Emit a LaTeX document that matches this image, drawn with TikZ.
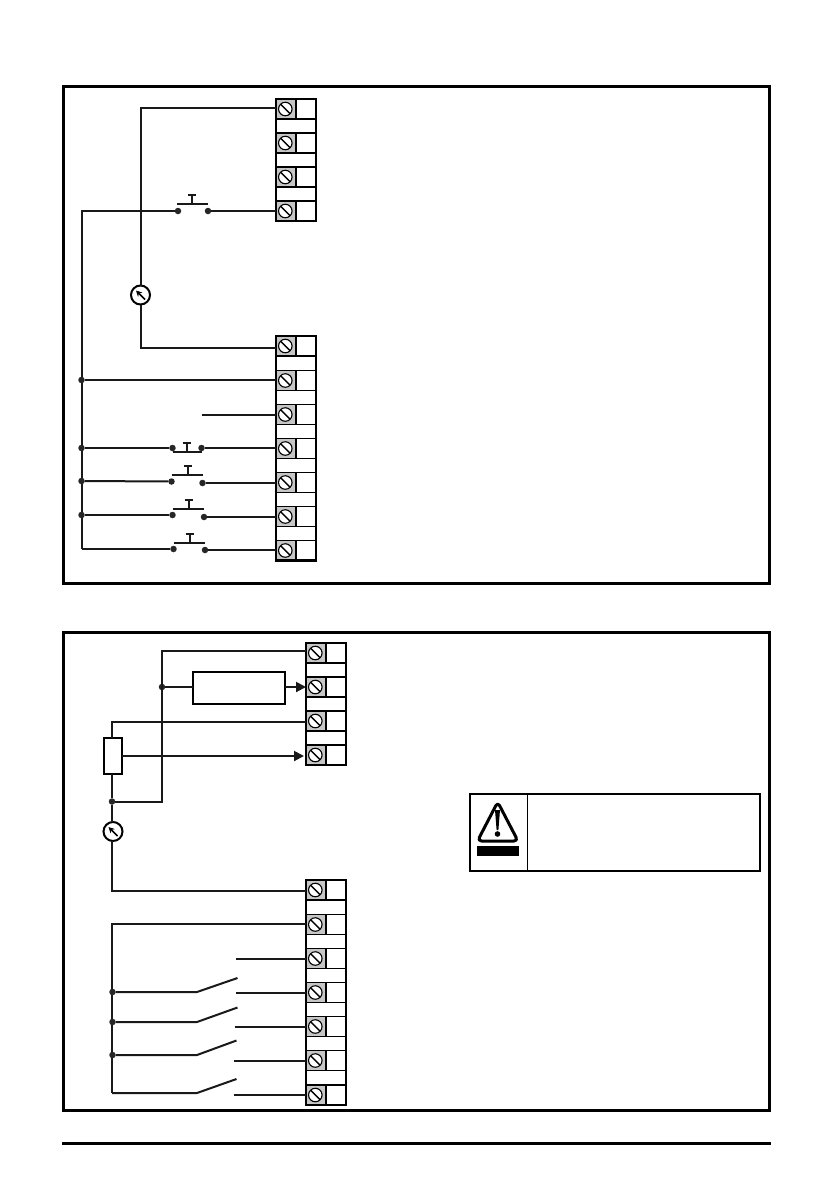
\documentclass[tikz,border=0pt]{standalone}
\usetikzlibrary{arrows.meta, positioning}
\tikzset{
    wire/.style={line width=2pt, line join=miter, black!90},
    panel/.style={line width=3pt},
    termcell/.style={draw, line width=1.8pt, fill=gray!45, minimum size=20pt, inner sep=0pt, outer sep=0pt},
    termblank/.style={draw, line width=1.8pt, fill=white, minimum size=20pt, inner sep=0pt, outer sep=0pt},
    termscrew/.style={draw, circle, line width=1.1pt, fill=white, minimum size=13.5pt, inner sep=0pt,
        path picture={\draw[line width=1.4pt] (path picture bounding box.north west) -- (path picture bounding box.south east);}},
    condot/.style={circle, fill=black!85, minimum size=6.5pt, inner sep=0pt, outer sep=0pt},
    meter/.style={draw, circle, line width=2pt, fill=white, minimum size=19pt, inner sep=0pt, outer sep=0pt,
        path picture={\draw[line width=1.6pt, -{Stealth[length=6pt,width=6pt]}]
            ([shift={(4.5,4.5)}]path picture bounding box.center) -- ([shift={(-4.5,-4.5)}]path picture bounding box.center);}},
    potbox/.style={draw, line width=2pt, fill=white, minimum width=18pt, minimum height=36pt, inner sep=0pt, outer sep=0pt},
    ctrlbox/.style={draw, line width=2pt, fill=white, minimum width=92pt, minimum height=32pt, inner sep=0pt, outer sep=0pt},
    tip/.style={-{Triangle[length=10pt,width=10pt]}},
}
\begin{document}
\begin{tikzpicture}[x=1pt,y=-1pt]
    \useasboundingbox (0,0) rectangle (838,1192);
    % frames
    \draw[panel] (63.5,86.5) rectangle (769.5,583.5);
    \draw[panel] (63.5,632.5) rectangle (769.5,1110);
    \draw[line width=3pt] (62,1143) -- (771,1143);

    % terminal blocks
    \foreach \n/\y in {1/109,2/143,3/177,4/211} {
        \node[termcell] (ta\n) at (286,\y) {};
        \node[termblank, right=0pt of ta\n] (tar\n) {};
        \node[termscrew, xshift=-0.7pt] (tas\n) at (ta\n) {};
    }
    \foreach \n/\y in {1/346,2/380.5,3/414.5,4/448.5,5/482.5,6/516.5,7/550.5} {
        \node[termcell] (tb\n) at (286,\y) {};
        \node[termblank, right=0pt of tb\n] (tbr\n) {};
        \node[termscrew, xshift=-0.7pt] (tbs\n) at (tb\n) {};
    }
    \foreach \n/\y in {1/653,2/687,3/721,4/755} {
        \node[termcell] (tc\n) at (316,\y) {};
        \node[termblank, right=0pt of tc\n] (tcr\n) {};
        \node[termscrew, xshift=-0.7pt] (tcs\n) at (tc\n) {};
    }
    \foreach \n/\y in {1/890,2/924.5,3/958.5,4/992.5,5/1026.5,6/1060.5,7/1095} {
        \node[termcell] (td\n) at (316,\y) {};
        \node[termblank, right=0pt of td\n] (tdr\n) {};
        \node[termscrew, xshift=-0.7pt] (tds\n) at (td\n) {};
    }
    \draw[line width=2.2pt] (ta1.north west) rectangle (tar4.south east);
    \draw[line width=2.2pt] (tb1.north west) rectangle (tbr7.south east);
    \draw[line width=2.2pt] (tc1.north west) rectangle (tcr4.south east);
    \draw[line width=2.2pt] (td1.north west) rectangle (tdr7.south east);

    % upper panel
    \node[meter] (mA) at (140.5,295) {};
    \draw[wire] (mA) -- (140.5,108) -- (ta1.west |- 0,108);
    \draw[wire] (mA) -- (140.5,348) -- (tb1.west |- 0,348);

    \node[condot] (pa0l) at (178,211) {};
    \node[condot] (pa0r) at (208,211) {};
    \draw[wire] (pa0r) -- (ta4.west);
    \draw[wire] (pa0l) -- (81.5,211) -- (81.5,549) coordinate (busA);
    \draw[wire] (177,204) -- (208,204) (192,204) -- (192,195) (188,195) -- (196,195);

    \node[condot] (ba2) at (81.5,380) {};
    \draw[wire] (ba2) -- (tb2.west |- ba2);
    \coordinate (stubA) at (202,415);
    \draw[wire] (stubA) -- (tb3.west |- stubA);

    % left contact, right contact, bar, stem
    \foreach \n/\lx/\ly/\rx/\ry/\by/\sx/\cy/\t in {
        1/172.5/448/201.5/448/452/186.5/443/4,
        2/171.5/481.5/202.5/483/475/187.5/466/5,
        3/172.5/515/204/517/509/188.5/500/6,
        4/173.5/549/205/550/543/189.5/534/7} {
        \node[condot] (pb\n l) at (\lx,\ly) {};
        \node[condot] (pb\n r) at (\rx,\ry) {};
        \draw[wire] (pb\n r) -- (tb\t.west |- pb\n r);
        \draw[wire] (\lx,\by) -- (\rx,\by) (\sx,\by) -- (\sx,\cy) (\sx-4,\cy) -- (\sx+4,\cy);
    }
    \foreach \n/\y in {1/448,2/481,3/515} {
        \node[condot] (ba\n x) at (81.5,\y) {};
        \draw[wire] (ba\n x) -- (pb\n l);
    }
    \draw[wire] (busA) -- (pb4l);

    % lower panel
    \node[meter] (mB) at (113,831.5) {};
    \node[potbox] (pot) at (113,756) {};
    \node[ctrlbox] (ctrl) at (239,688) {};
    \node[condot] (bc1) at (162,687) {};
    \node[condot] (bc2) at (112,801.5) {};
    \draw[wire] (bc2) -- (162,801.5) -- (162,651) -- (tc1.west |- 0,651);
    \draw[wire] (bc1) -- (bc1 -| ctrl.west);
    \draw[wire, tip] (ctrl.east |- tc2.west) -- (tc2.west);
    \draw[wire] (112,738) -- (112,721.5) -- (tc3.west |- 0,721.5);
    \draw[wire, tip] (pot.east) -- ([xshift=-2pt]tc4.west |- pot.east);
    \draw[wire] (112,774) -- (bc2) -- (112,822);
    \draw[wire] (112,841) -- (112,891) -- (td1.west |- 0,891);

    \draw[wire] (td2.west |- 0,924) -- (112,924) -- (112,1093) coordinate (busB);
    \foreach \n/\y/\ex/\ey in {1/992/237.5/978,2/1022/237.5/1007.5,3/1055/236.5/1040.5} {
        \node[condot] (bd\n) at (112.5,\y) {};
        \draw[wire] (bd\n) -- (197,\y) -- (\ex,\ey);
    }
    \draw[wire] (busB) -- (197,1093) -- (236.5,1079);
    \foreach \t/\x in {3/236,4/236,5/234.5,6/233.5,7/233.5} {
        \coordinate (sd\t) at (\x,0);
        \draw[wire] (sd\t |- td\t.west) -- (td\t.west);
    }

    % warning box
    \draw[line width=2pt] (470,794) rectangle (760,871);
    \draw[line width=1.3pt] (527.5,794) -- (527.5,871);
    \draw[line width=3pt, line join=round, rounded corners=4pt] (497.7,802) -- (518,841) -- (477.5,841) -- cycle;
    \fill (495,810) -- (500,810) -- (498.4,830) -- (496.6,830) -- cycle;
    \fill (497.5,834) circle (2.8);
    \fill (477,846) rectangle (519,856);
\end{tikzpicture}
\end{document}
